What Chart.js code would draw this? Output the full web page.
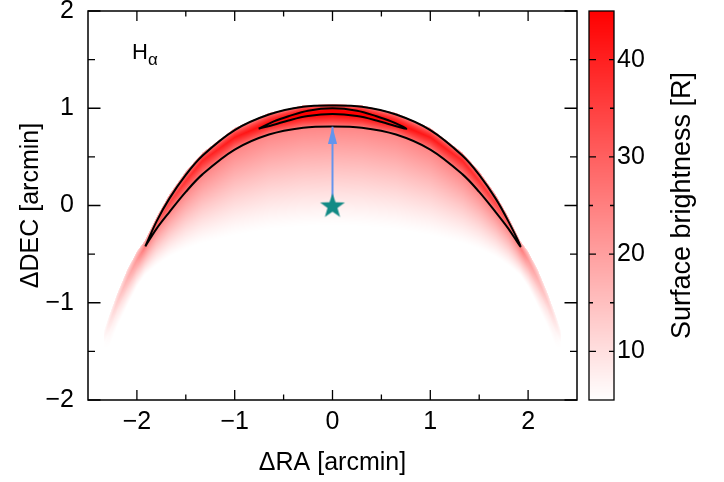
<!DOCTYPE html>
<html>
<head>
<meta charset="utf-8">
<script src="https://cdn.jsdelivr.net/npm/chart.js@4.4.0/dist/chart.umd.min.js"></script>
<style>
html,body{margin:0;padding:0;background:#fff}
#wrap{width:724px;height:482px}
</style>
</head>
<body>
<div id="wrap"><canvas id="bowChart" width="724" height="482"></canvas></div>
<script>
// H-alpha bow shock, offsets from the star in arcmin

// emission shell read column by column: outer edge, bright ridge, inner contour, fade-out
const shellX   = [-2.34,-2.28,-2.2,-2.1,-2.0,-1.92,-1.8,-1.67,-1.5,-1.33,-1.0,-0.65,-0.3,0,0.3,0.65,1.0,1.33,1.5,1.67,1.8,1.92,2.0,2.1,2.2,2.28,2.34];
const edgeY    = [-1.3,-1.12,-0.9,-0.66,-0.47,-0.36,-0.115,0.115,0.355,0.545,0.8,0.955,1.032,1.045,1.032,0.955,0.8,0.545,0.355,0.115,-0.115,-0.36,-0.47,-0.66,-0.9,-1.12,-1.3];
const ridgeY   = [-1.36,-1.2,-0.99,-0.76,-0.56,-0.43,-0.2,0.02,0.25,0.46,0.7,0.85,0.94,0.97,0.94,0.85,0.7,0.46,0.25,0.02,-0.2,-0.43,-0.56,-0.76,-0.99,-1.2,-1.36];
const innerY   = [-1.42,-1.3,-1.08,-0.86,-0.66,-0.45,-0.24,-0.07,0.14,0.32,0.575,0.73,0.8,0.813,0.8,0.73,0.575,0.32,0.14,-0.07,-0.24,-0.45,-0.66,-0.86,-1.08,-1.3,-1.42];
const fadeY    = [-1.5,-1.45,-1.25,-1.04,-0.84,-0.72,-0.62,-0.53,-0.45,-0.39,-0.31,-0.25,-0.22,-0.21,-0.22,-0.25,-0.31,-0.39,-0.45,-0.53,-0.62,-0.72,-0.84,-1.04,-1.25,-1.45,-1.5];
const ridgeVal = [6,9,13,17,21,26,30,34,37,39,41,43,46,48,46,43,41,39,37,34,30,26,21,17,13,9,6];
const innerVal = [5,6.5,9,12,15,24,24,24,24,24,24,24,24,24,24,24,24,24,24,24,24,24,15,12,9,6.5,5];

// contour lines (closed loops)
const contourLowX  = [-1.914,-1.8,-1.67,-1.5,-1.33,-1.0,-0.65,-0.3,0,0.3,0.65,1.0,1.33,1.5,1.67,1.8,1.922,1.8,1.67,1.5,1.33,1.0,0.65,0.3,0,-0.3,-0.65,-1.0,-1.33,-1.5,-1.67,-1.8,-1.914];
const contourLowY  = [-0.42,-0.166,0.068,0.315,0.511,0.775,0.935,1.015,1.028,1.015,0.935,0.775,0.511,0.315,0.068,-0.166,-0.42,-0.24,-0.07,0.14,0.32,0.575,0.73,0.8,0.813,0.8,0.73,0.575,0.32,0.14,-0.07,-0.24,-0.42];
const contourHighX = [-0.755,-0.6,-0.45,-0.25,0,0.25,0.45,0.6,0.755,0.6,0.45,0.25,0,-0.25,-0.45,-0.6,-0.755];
const contourHighY = [0.79,0.865,0.918,0.975,1.0,0.975,0.918,0.865,0.79,0.83,0.875,0.92,0.94,0.92,0.875,0.83,0.79];

// star and its motion arrow
const starX = [0];
const starY = [0];
const arrowX = [0, 0];
const arrowY = [0, 0.81];

// axes
const xTicks = [-2,-1,0,1,2];
const xMinor = [-1.5,-0.5,0.5,1.5];
const yTicks = [-2,-1,0,1,2];
const yMinor = [-1.5,-0.5,0.5,1.5];
const cbTicks = [10,20,30,40];
const cbMinor = [15,25,35];
const cbMin = 5, cbMax = 45;

const FONT = "'Liberation Sans', Arial, sans-serif";

function fmt(v){ return v < 0 ? '\u2212' + Math.abs(v) : String(v); }

function redScale(v){
    let t = (v - cbMin) / (cbMax - cbMin);
    t = Math.max(0, Math.min(1, t));
    const g = Math.round(255 * (1 - t));
    return [255, g, g];
}

function columnAt(x){
    const n = shellX.length;
    if (x < shellX[0] || x > shellX[n-1]) return null;
    let i = 0;
    while (i < n - 2 && x > shellX[i+1]) i++;
    const f = (x - shellX[i]) / (shellX[i+1] - shellX[i]);
    const L = a => a[i] + (a[i+1] - a[i]) * f;
    return {e:L(edgeY), r:L(ridgeY), i:L(innerY), f:L(fadeY), rv:L(ridgeVal), iv:L(innerVal)};
}

function brightness(c, y){
    if (y >= c.e) return 0;
    if (y >= c.r){
        const s = (c.e - y) / Math.max(1e-6, c.e - c.r);
        return 5 + (c.rv - 5) * Math.pow(s, 0.35);
    }
    if (y >= c.i){
        const s = (c.r - y) / Math.max(1e-6, c.r - c.i);
        return c.iv + (c.rv - c.iv) * Math.pow(1 - s, 0.8);
    }
    if (y >= c.f){
        const s = (c.i - y) / Math.max(1e-6, c.i - c.f);
        return 5 + (c.iv - 5) * Math.pow(1 - s, 1.25);
    }
    return 0;
}

const heatmapPlugin = {
    id: 'heatmap',
    beforeDatasetsDraw(chart){
        const {ctx, chartArea} = chart;
        const xs = chart.scales.x, ys = chart.scales.y;
        const x0 = Math.round(chartArea.left), y0 = Math.round(chartArea.top);
        const w = Math.round(chartArea.right) - x0, h = Math.round(chartArea.bottom) - y0;
        const img = ctx.createImageData(w, h);
        for (let px = 0; px < w; px++){
            const c = columnAt(xs.getValueForPixel(x0 + px + 0.5));
            for (let py = 0; py < h; py++){
                let rgb = [255,255,255];
                if (c){
                    const b = brightness(c, ys.getValueForPixel(y0 + py + 0.5));
                    if (b > cbMin) rgb = redScale(b);
                }
                const k = (py * w + px) * 4;
                img.data[k] = rgb[0]; img.data[k+1] = rgb[1]; img.data[k+2] = rgb[2]; img.data[k+3] = 255;
            }
        }
        ctx.putImageData(img, x0, y0);
    }
};

const framePlugin = {
    id: 'frame',
    afterDatasetsDraw(chart){
        const {ctx, chartArea: a} = chart;
        const xs = chart.scales.x, ys = chart.scales.y, cb = chart.scales.cb;
        ctx.save();
        // H alpha label
        ctx.fillStyle = '#000';
        ctx.textBaseline = 'alphabetic';
        ctx.font = '22px ' + FONT;
        const hx = xs.getPixelForValue(-2.05), hy = ys.getPixelForValue(1.51);
        ctx.fillText('H', hx, hy);
        const hw = ctx.measureText('H').width;
        ctx.font = '17px ' + FONT;
        ctx.fillText('\u03b1', hx + hw, hy + 6);

        // plot frame with inward ticks
        ctx.strokeStyle = '#000';
        ctx.lineWidth = 1.5;
        ctx.strokeRect(a.left, a.top, a.right - a.left, a.bottom - a.top);
        ctx.lineWidth = 1.3;
        ctx.beginPath();
        const xt = (vals, len) => vals.forEach(v => {
            const p = xs.getPixelForValue(v);
            ctx.moveTo(p, a.bottom); ctx.lineTo(p, a.bottom - len);
            ctx.moveTo(p, a.top); ctx.lineTo(p, a.top + len);
        });
        const yt = (vals, len) => vals.forEach(v => {
            const p = ys.getPixelForValue(v);
            ctx.moveTo(a.left, p); ctx.lineTo(a.left + len, p);
            ctx.moveTo(a.right, p); ctx.lineTo(a.right - len, p);
        });
        xt(xTicks, 10); xt(xMinor, 5.5);
        yt(yTicks, 12.5); yt(yMinor, 7);
        ctx.stroke();

        // colour bar
        const bx0 = a.right + 12, bx1 = a.right + 37;
        for (let py = Math.round(a.top); py < Math.round(a.bottom); py++){
            const rgb = redScale(cb.getValueForPixel(py + 0.5));
            ctx.fillStyle = 'rgb(' + rgb.join(',') + ')';
            ctx.fillRect(bx0, py, bx1 - bx0, 1);
        }
        ctx.lineWidth = 1.3;
        ctx.strokeStyle = '#000';
        ctx.strokeRect(bx0, a.top, bx1 - bx0, a.bottom - a.top);
        ctx.beginPath();
        cbTicks.forEach(v => {
            const p = cb.getPixelForValue(v);
            ctx.moveTo(bx0, p); ctx.lineTo(bx0 + 7, p);
            ctx.moveTo(bx1, p); ctx.lineTo(bx1 - 5, p);
        });
        cbMinor.forEach(v => {
            const p = cb.getPixelForValue(v);
            ctx.moveTo(bx0, p); ctx.lineTo(bx0 + 4, p);
            ctx.moveTo(bx1, p); ctx.lineTo(bx1 - 4, p);
        });
        ctx.stroke();

        // colour bar title
        ctx.save();
        ctx.translate(683, (a.top + a.bottom) / 2);
        ctx.rotate(-Math.PI / 2);
        ctx.font = '27px ' + FONT;
        ctx.fillStyle = '#000';
        ctx.textAlign = 'center';
        ctx.textBaseline = 'middle';
        ctx.fillText('Surface brightness [R]', 0, 0);
        ctx.restore();
        ctx.restore();
    }
};

function makeStar(){
    const c = document.createElement('canvas');
    c.width = 30; c.height = 30;
    const g = c.getContext('2d');
    const R = 13, r = R * 0.4;
    g.beginPath();
    for (let k = 0; k < 10; k++){
        const rad = k % 2 === 0 ? R : r;
        const ang = -Math.PI / 2 + k * Math.PI / 5;
        const px = 15 + rad * Math.cos(ang), py = 16 + rad * Math.sin(ang);
        k === 0 ? g.moveTo(px, py) : g.lineTo(px, py);
    }
    g.closePath();
    g.fillStyle = '#138a85';
    g.fill();
    return c;
}

function makeArrowHead(){
    const c = document.createElement('canvas');
    c.width = 11; c.height = 34;
    const g = c.getContext('2d');
    g.beginPath();
    g.moveTo(5.5, 17); g.lineTo(10, 34); g.lineTo(1, 34); g.closePath();
    g.fillStyle = '#6495ed';
    g.fill();
    return c;
}

const starImg = makeStar();
const headImg = makeArrowHead();
const pts = (xs, ys) => xs.map((x, i) => ({x: x, y: ys[i]}));

const tickFont = {family: FONT, size: 25};
const titleFont = {family: FONT, size: 25};
const noVertPad = s => { s.paddingTop = 0; s.paddingBottom = 0; };

new Chart(document.getElementById('bowChart'), {
    type: 'scatter',
    data: {
        datasets: [
            {label: 'star', data: pts(starX, starY), pointStyle: starImg, pointRadius: 10, order: 0},
            {label: 'arrow', data: pts(arrowX, arrowY), showLine: true, borderColor: '#6495ed', borderWidth: 2,
             pointStyle: c => c.dataIndex === 1 ? headImg : 'circle',
             pointRadius: c => c.dataIndex === 1 ? 5 : 0, order: 1},
            {label: 'contour high', data: pts(contourHighX, contourHighY), showLine: true, borderColor: '#000',
             borderWidth: 2, tension: 0.35, pointRadius: 0, order: 2},
            {label: 'contour low', data: pts(contourLowX, contourLowY), showLine: true, borderColor: '#000',
             borderWidth: 2, tension: 0.35, pointRadius: 0, order: 3}
        ]
    },
    options: {
        responsive: false,
        devicePixelRatio: 1,
        animation: false,
        layout: {padding: {top: 9, left: 0, right: 0, bottom: 0}},
        plugins: {legend: {display: false}, tooltip: {enabled: false}},
        scales: {
            x: {
                type: 'linear', min: -2.5, max: 2.5,
                afterBuildTicks: s => { s.ticks = xTicks.map(v => ({value: v})); },
                afterFit: s => { s.height = 82; s.paddingLeft = 0; s.paddingRight = 0; },
                grid: {display: false, drawTicks: false},
                border: {display: false},
                ticks: {font: tickFont, color: '#000', padding: 7, maxRotation: 0, autoSkip: false, callback: fmt},
                title: {display: true, text: '\u0394RA [arcmin]', font: titleFont, color: '#000', padding: {top: 0, bottom: 4}}
            },
            y: {
                type: 'linear', min: -2, max: 2,
                afterBuildTicks: s => { s.ticks = yTicks.map(v => ({value: v})); },
                afterFit: s => { s.width = 88; noVertPad(s); },
                grid: {display: false, drawTicks: false},
                border: {display: false},
                ticks: {font: tickFont, color: '#000', padding: 14, autoSkip: false, callback: fmt},
                title: {display: true, text: '\u0394DEC [arcmin]', font: titleFont, color: '#000', padding: {top: 16, bottom: 0}}
            },
            cb: {
                type: 'linear', position: 'right', min: cbMin, max: cbMax,
                afterBuildTicks: s => { s.ticks = cbTicks.map(v => ({value: v})); },
                afterFit: s => { s.width = 147; noVertPad(s); },
                grid: {display: false, drawTicks: false},
                border: {display: false},
                ticks: {font: tickFont, color: '#000', padding: 40, autoSkip: false}
            }
        }
    },
    plugins: [heatmapPlugin, framePlugin]
});
</script>
</body>
</html>
